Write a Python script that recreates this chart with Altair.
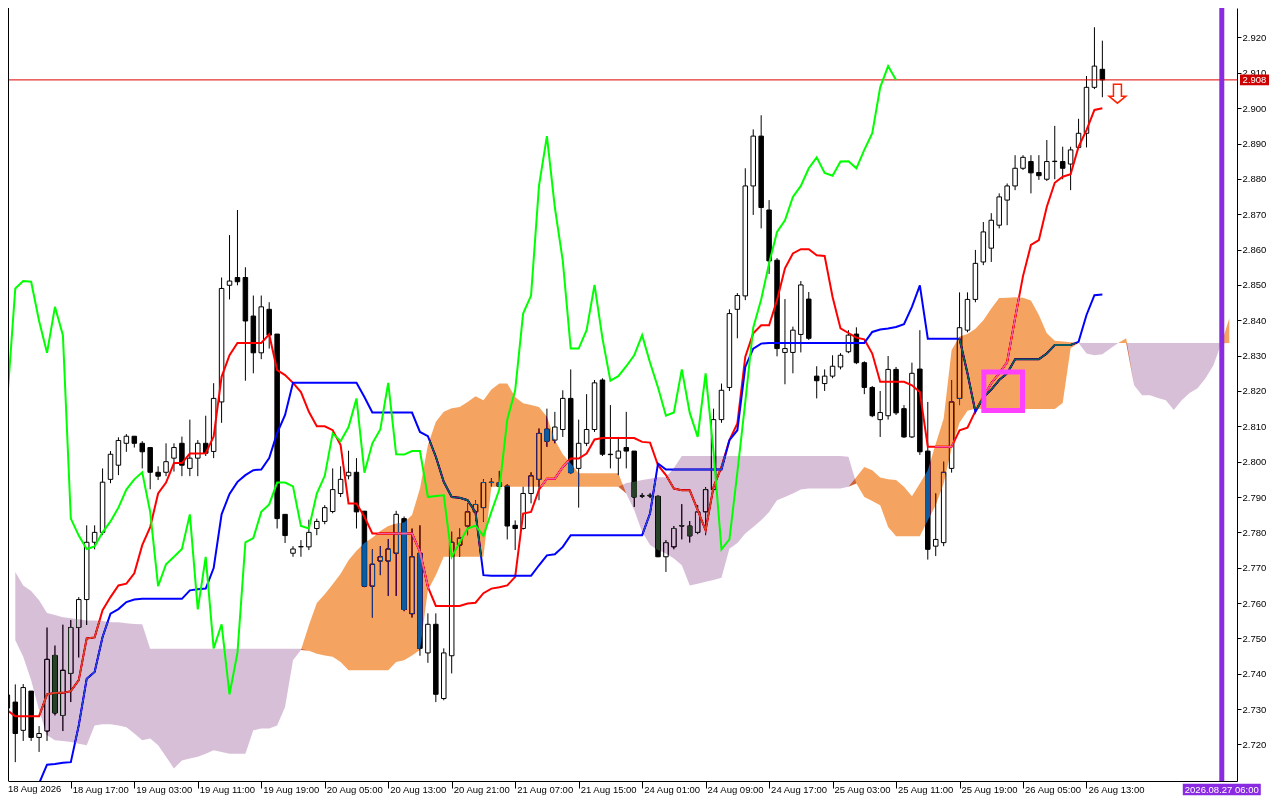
import json
import altair as alt
import pandas as pd

FONT = "Liberation Sans"

# ---------------- data ----------------
opens = [2.7303, 2.7320, 2.7240, 2.7351, 2.7220, 2.7238, 2.7452, 2.7282, 2.7401, 2.7531,
         2.7610, 2.7772, 2.7800, 2.7950, 2.7990, 2.8052, 2.8072, 2.8052, 2.8040, 2.7970,
         2.7970, 2.8010, 2.8052, 2.7981, 2.8010, 2.8052, 2.8029, 2.8169, 2.8499, 2.8521,
         2.8521, 2.8412, 2.8308, 2.8431, 2.8361, 2.7851, 2.7741, 2.7759, 2.7759, 2.7811,
         2.7831, 2.7859, 2.7910, 2.7960, 2.7970, 2.7860, 2.7648, 2.7719, 2.7719, 2.7741,
         2.7839, 2.7570, 2.7741, 2.7459, 2.7540, 2.7330, 2.7451, 2.7764, 2.7818, 2.7858,
         2.7870, 2.7942, 2.7941, 2.7931, 2.7820, 2.7811, 2.7910, 2.7950, 2.8092, 2.8061,
         2.8091, 2.8179, 2.7981, 2.8052, 2.8091, 2.8231, 2.8021, 2.8010, 2.8040, 2.8030,
         2.7903, 2.7903, 2.7902, 2.7731, 2.7759, 2.7818, 2.7818, 2.7800, 2.7858, 2.7921,
         2.8119, 2.8210, 2.8431, 2.8469, 2.8780, 2.8921, 2.8712, 2.8570, 2.8309, 2.8309,
         2.8360, 2.8460, 2.8242, 2.8221, 2.8242, 2.8268, 2.8311, 2.8361, 2.8280, 2.8210,
         2.8119, 2.8130, 2.8261, 2.8150, 2.8070, 2.8262, 2.8030, 2.7761, 2.7771, 2.7981,
         2.8179, 2.8372, 2.8459, 2.8565, 2.8604, 2.8669, 2.8740, 2.8780, 2.8830, 2.8849,
         2.8818, 2.8799, 2.8849, 2.8849, 2.8842, 2.8889, 2.8929, 2.9059, 2.9110]
highs = [2.7354, 2.7370, 2.7371, 2.7351, 2.7252, 2.7531, 2.7480, 2.7539, 2.7552, 2.7617,
         2.7820, 2.7820, 2.7981, 2.8030, 2.8069, 2.8078, 2.8072, 2.8058, 2.8040, 2.7987,
         2.8052, 2.8052, 2.8071, 2.8119, 2.8061, 2.8130, 2.8222, 2.8521, 2.8641, 2.8712,
         2.8550, 2.8470, 2.8470, 2.8451, 2.8361, 2.7851, 2.7761, 2.7778, 2.7836, 2.7839,
         2.7877, 2.7981, 2.7987, 2.8031, 2.8010, 2.7860, 2.7752, 2.7761, 2.7781, 2.7861,
         2.7845, 2.7811, 2.7820, 2.7571, 2.7571, 2.7472, 2.7802, 2.7811, 2.7883, 2.7891,
         2.7950, 2.7953, 2.7974, 2.7936, 2.7834, 2.7929, 2.7970, 2.8094, 2.8150, 2.8141,
         2.8202, 2.8261, 2.8119, 2.8191, 2.8231, 2.8236, 2.8160, 2.8070, 2.8141, 2.8030,
         2.7911, 2.7911, 2.7905, 2.7778, 2.7818, 2.7880, 2.7832, 2.7877, 2.7928, 2.8150,
         2.8221, 2.8431, 2.8477, 2.8830, 2.8940, 2.8980, 2.8740, 2.8576, 2.8460, 2.8382,
         2.8511, 2.8480, 2.8270, 2.8261, 2.8301, 2.8307, 2.8372, 2.8380, 2.8284, 2.8214,
         2.8200, 2.8299, 2.8268, 2.8160, 2.8280, 2.8372, 2.8169, 2.7910, 2.8000, 2.8231,
         2.8479, 2.8479, 2.8599, 2.8678, 2.8703, 2.8759, 2.8787, 2.8867, 2.8867, 2.8867,
         2.8867, 2.8910, 2.8950, 2.8891, 2.8891, 2.8970, 2.9091, 2.9229, 2.9191]
lows = [2.7292, 2.7150, 2.7210, 2.7210, 2.7179, 2.7210, 2.7282, 2.7238, 2.7320, 2.7446,
        2.7538, 2.7752, 2.7792, 2.7939, 2.7962, 2.8028, 2.8040, 2.7981, 2.7922, 2.7948,
        2.7959, 2.7972, 2.7959, 2.7959, 2.7959, 2.8016, 2.8010, 2.8110, 2.8459, 2.8499,
        2.8229, 2.8250, 2.8290, 2.8320, 2.7811, 2.7770, 2.7731, 2.7731, 2.7750, 2.7792,
        2.7823, 2.7854, 2.7900, 2.7950, 2.7811, 2.7645, 2.7559, 2.7679, 2.7620, 2.7620,
        2.7577, 2.7559, 2.7451, 2.7431, 2.7320, 2.7325, 2.7401, 2.7731, 2.7792, 2.7834,
        2.7830, 2.7930, 2.7928, 2.7780, 2.7750, 2.7808, 2.7882, 2.7891, 2.8042, 2.8052,
        2.8070, 2.7965, 2.7870, 2.8044, 2.8084, 2.8016, 2.7981, 2.7962, 2.7981, 2.7872,
        2.7897, 2.7897, 2.7730, 2.7688, 2.7752, 2.7780, 2.7771, 2.7795, 2.7792, 2.7917,
        2.8110, 2.8200, 2.8349, 2.8457, 2.8698, 2.8660, 2.8531, 2.8298, 2.8219, 2.8250,
        2.8309, 2.8344, 2.8179, 2.8200, 2.8236, 2.8261, 2.8307, 2.8276, 2.8191, 2.8126,
        2.8070, 2.8119, 2.8132, 2.8067, 2.8067, 2.8019, 2.7723, 2.7733, 2.7761, 2.7969,
        2.8160, 2.8366, 2.8451, 2.8556, 2.8565, 2.8660, 2.8669, 2.8768, 2.8825, 2.8759,
        2.8797, 2.8794, 2.8799, 2.8799, 2.8768, 2.8884, 2.8889, 2.9054, 2.9031]
closes = [2.7340, 2.7231, 2.7361, 2.7220, 2.7231, 2.7441, 2.7289, 2.7410, 2.7531, 2.7610,
          2.7772, 2.7800, 2.7942, 2.8021, 2.8060, 2.8072, 2.8052, 2.8028, 2.7970, 2.7959,
          2.8000, 2.8040, 2.7990, 2.8010, 2.8052, 2.8024, 2.8179, 2.8490, 2.8511, 2.8509,
          2.8398, 2.8308, 2.8438, 2.8358, 2.7839, 2.7791, 2.7753, 2.7760, 2.7800, 2.7831,
          2.7870, 2.7921, 2.7950, 2.7970, 2.7858, 2.7648, 2.7710, 2.7731, 2.7753, 2.7851,
          2.7582, 2.7731, 2.7472, 2.7540, 2.7342, 2.7459, 2.7772, 2.7784, 2.7858, 2.7879,
          2.7941, 2.7941, 2.7930, 2.7818, 2.7811, 2.7910, 2.7960, 2.8080, 2.8058, 2.8098,
          2.8179, 2.7969, 2.8052, 2.8091, 2.8223, 2.8021, 2.8020, 2.8030, 2.8030, 2.7900,
          2.7903, 2.7905, 2.7731, 2.7771, 2.7811, 2.7819, 2.7790, 2.7858, 2.7921, 2.8119,
          2.8202, 2.8419, 2.8470, 2.8780, 2.8921, 2.8719, 2.8568, 2.8320, 2.8320, 2.8372,
          2.8500, 2.8349, 2.8229, 2.8242, 2.8270, 2.8301, 2.8358, 2.8280, 2.8210, 2.8130,
          2.8139, 2.8261, 2.8138, 2.8070, 2.8250, 2.8028, 2.7752, 2.7780, 2.7970, 2.8169,
          2.8379, 2.8459, 2.8561, 2.8650, 2.8683, 2.8749, 2.8780, 2.8830, 2.8861, 2.8817,
          2.8809, 2.8849, 2.8850, 2.8830, 2.8882, 2.8929, 2.9059, 2.9119, 2.9080]

tenkan = [2.7297, 2.7280, 2.7280, 2.7280, 2.7280, 2.7342, 2.7346, 2.7346, 2.7351, 2.7382,
          2.7500, 2.7503, 2.7580, 2.7617, 2.7650, 2.7655, 2.7684, 2.7764, 2.7815, 2.7910,
          2.7941, 2.7996, 2.7996, 2.8023, 2.8023, 2.8024, 2.8071, 2.8240, 2.8301, 2.8336,
          2.8336, 2.8336, 2.8336, 2.8360, 2.8259, 2.8245, 2.8223, 2.8197, 2.8141, 2.8100,
          2.8100, 2.8089, 2.8047, 2.7882, 2.7882, 2.7844, 2.7797, 2.7797, 2.7797, 2.7797,
          2.7797, 2.7797, 2.7745, 2.7646, 2.7592, 2.7592, 2.7592, 2.7592, 2.7599, 2.7601,
          2.7628, 2.7641, 2.7645, 2.7650, 2.7674, 2.7853, 2.7858, 2.7921, 2.7952, 2.7952,
          2.7985, 2.8009, 2.8009, 2.8023, 2.8063, 2.8067, 2.8067, 2.8067, 2.8067, 2.8067,
          2.8056, 2.8054, 2.7990, 2.7962, 2.7924, 2.7919, 2.7919, 2.7863, 2.7806, 2.7929,
          2.7985, 2.8061, 2.8108, 2.8297, 2.8363, 2.8386, 2.8386, 2.8457, 2.8547, 2.8589,
          2.8601, 2.8601, 2.8584, 2.8582, 2.8466, 2.8377, 2.8364, 2.8351, 2.8346, 2.8306,
          2.8226, 2.8226, 2.8226, 2.8226, 2.8216, 2.8197, 2.8042, 2.8042, 2.8042, 2.8042,
          2.8089, 2.8096, 2.8143, 2.8183, 2.8222, 2.8250, 2.8282, 2.8406, 2.8525, 2.8613,
          2.8627, 2.8721, 2.8789, 2.8806, 2.8813, 2.8891, 2.8938, 2.8995, 2.9000]
kijun = [2.7042, 2.7042, 2.7042, 2.7042, 2.7090, 2.7143, 2.7145, 2.7148, 2.7150, 2.7254,
         2.7386, 2.7405, 2.7504, 2.7570, 2.7583, 2.7603, 2.7610, 2.7612, 2.7612, 2.7612,
         2.7612, 2.7612, 2.7612, 2.7636, 2.7639, 2.7641, 2.7699, 2.7851, 2.7909, 2.7943,
         2.7962, 2.7976, 2.7978, 2.8010, 2.8081, 2.8132, 2.8223, 2.8223, 2.8223, 2.8223,
         2.8223, 2.8223, 2.8223, 2.8223, 2.8223, 2.8183, 2.8139, 2.8139, 2.8139, 2.8139,
         2.8139, 2.8139, 2.8084, 2.8072, 2.8014, 2.7943, 2.7900, 2.7898, 2.7891, 2.7857,
         2.7679, 2.7677, 2.7677, 2.7677, 2.7677, 2.7677, 2.7677, 2.7707, 2.7735, 2.7738,
         2.7759, 2.7792, 2.7792, 2.7792, 2.7792, 2.7792, 2.7792, 2.7792, 2.7792, 2.7792,
         2.7792, 2.7854, 2.7995, 2.7978, 2.7978, 2.7978, 2.7978, 2.7978, 2.7978, 2.7978,
         2.7978, 2.8061, 2.8089, 2.8268, 2.8320, 2.8334, 2.8336, 2.8336, 2.8336, 2.8336,
         2.8336, 2.8336, 2.8336, 2.8336, 2.8336, 2.8336, 2.8336, 2.8336, 2.8336, 2.8367,
         2.8374, 2.8377, 2.8381, 2.8389, 2.8438, 2.8499, 2.8348, 2.8348, 2.8348, 2.8348,
         2.8348, 2.8250, 2.8141, 2.8182, 2.8204, 2.8231, 2.8250, 2.8290, 2.8290, 2.8290,
         2.8290, 2.8306, 2.8330, 2.8330, 2.8330, 2.8339, 2.8415, 2.8471, 2.8473]

senkou_a = [2.7509, 2.7495, 2.7448, 2.7382, 2.7297, 2.7226, 2.7212, 2.7210, 2.7207, 2.7202,
            2.7198, 2.7254, 2.7257, 2.7257, 2.7254, 2.7249, 2.7231, 2.7212, 2.7217, 2.7198,
            2.7165, 2.7132, 2.7155, 2.7160, 2.7165, 2.7174, 2.7184, 2.7179, 2.7174, 2.7174,
            2.7174, 2.7240, 2.7245, 2.7245, 2.7254, 2.7306, 2.7438, 2.7467, 2.7537, 2.7600,
            2.7625, 2.7653, 2.7683, 2.7721, 2.7748, 2.7770, 2.7785, 2.7804, 2.7818, 2.7825,
            2.7828, 2.7849, 2.7924, 2.8047, 2.8113, 2.8141, 2.8151, 2.8155, 2.8169, 2.8185,
            2.8174, 2.8204, 2.8221, 2.8221, 2.8183, 2.8165, 2.8160, 2.8155, 2.8127, 2.8061,
            2.8021, 2.7995, 2.7967, 2.7967, 2.7967, 2.7967, 2.7967, 2.7967, 2.7910, 2.7863,
            2.7801, 2.7764, 2.7750, 2.7740, 2.7726, 2.7707, 2.7650, 2.7655, 2.7660, 2.7665,
            2.7672, 2.7754, 2.7770, 2.7797, 2.7815, 2.7834, 2.7858, 2.7891, 2.7900, 2.7910,
            2.7921, 2.7924, 2.7924, 2.7924, 2.7924, 2.7924, 2.7929, 2.7957, 2.7985, 2.7976,
            2.7955, 2.7950, 2.7948, 2.7929, 2.7902, 2.7938, 2.7976, 2.8051, 2.8122, 2.8316,
            2.8354, 2.8361, 2.8376, 2.8400, 2.8433, 2.8463, 2.8464, 2.8465, 2.8464, 2.8456,
            2.8415, 2.8363, 2.8342, 2.8340, 2.8338, 2.8336, 2.8306, 2.8301, 2.8304, 2.8320,
            2.8336, 2.8349, 2.8216, 2.8188, 2.8188, 2.8180, 2.8174, 2.8146, 2.8174, 2.8194,
            2.8208, 2.8236, 2.8273, 2.8335, 2.8406]
senkou_b = [2.7698, 2.7688, 2.7650, 2.7634, 2.7608, 2.7572, 2.7566, 2.7560, 2.7557, 2.7554,
            2.7551, 2.7551, 2.7549, 2.7546, 2.7546, 2.7543, 2.7541, 2.7540, 2.7471, 2.7471,
            2.7471, 2.7471, 2.7471, 2.7471, 2.7471, 2.7471, 2.7471, 2.7471, 2.7471, 2.7471,
            2.7471, 2.7471, 2.7471, 2.7471, 2.7471, 2.7471, 2.7471, 2.7471, 2.7465, 2.7457,
            2.7452, 2.7448, 2.7433, 2.7410, 2.7410, 2.7410, 2.7410, 2.7410, 2.7410, 2.7433,
            2.7438, 2.7452, 2.7467, 2.7636, 2.7679, 2.7731, 2.7731, 2.7731, 2.7731, 2.7731,
            2.7731, 2.7929, 2.7929, 2.7929, 2.7929, 2.7929, 2.7929, 2.7929, 2.7929, 2.7929,
            2.7929, 2.7929, 2.7929, 2.7929, 2.7929, 2.7929, 2.7929, 2.7929, 2.7940, 2.7943,
            2.7948, 2.7952, 2.7956, 2.7956, 2.7982, 2.8016, 2.8016, 2.8016, 2.8016, 2.8016,
            2.8016, 2.8016, 2.8016, 2.8016, 2.8016, 2.8016, 2.8016, 2.8016, 2.8016, 2.8016,
            2.8016, 2.8016, 2.8016, 2.8016, 2.8016, 2.8016, 2.8014, 2.7938, 2.7900, 2.7889,
            2.7877, 2.7815, 2.7789, 2.7789, 2.7789, 2.7789, 2.7834, 2.7877, 2.7938, 2.8037,
            2.8110, 2.8144, 2.8150, 2.8149, 2.8149, 2.8149, 2.8149, 2.8149, 2.8149, 2.8149,
            2.8149, 2.8149, 2.8149, 2.8166, 2.8321, 2.8336, 2.8336, 2.8336, 2.8336, 2.8336,
            2.8336, 2.8336, 2.8336, 2.8336, 2.8336, 2.8336, 2.8336, 2.8336, 2.8336, 2.8336,
            2.8336, 2.8336, 2.8336, 2.8336, 2.8336]

time_labels = ["18 Aug 2026", "18 Aug 17:00", "19 Aug 03:00", "19 Aug 11:00", "19 Aug 19:00",
               "20 Aug 05:00", "20 Aug 13:00", "20 Aug 21:00", "21 Aug 07:00", "21 Aug 15:00",
               "24 Aug 01:00", "24 Aug 09:00", "24 Aug 17:00", "25 Aug 03:00", "25 Aug 11:00",
               "25 Aug 19:00", "26 Aug 05:00", "26 Aug 13:00"]
time_label_bars = [8, 16, 24, 32, 40, 48, 56, 64, 72, 80, 88, 96, 104, 112, 120, 128, 136]
price_ticks = [2.720, 2.730, 2.740, 2.750, 2.760, 2.770, 2.780, 2.790, 2.800, 2.810, 2.820,
               2.830, 2.840, 2.850, 2.860, 2.870, 2.880, 2.890, 2.900, 2.910, 2.920]

current_price = [2.908]
current_price_text = ["2.908"]
marker_bar = [153.05]
marker_text = ["2026.08.27 06:00"]
box_bars = [123.06, 127.94]
box_prices = [2.8145, 2.8254]
arrow_bar = [139.9]
arrow_price = [2.9041]
CHIKOU_SHIFT = 26

# ---------------- layout ----------------
W, H = 1229, 773
X_MIN, X_MAX = 0.7125, 154.3375
Y_MIN, Y_MAX = 2.70967, 2.92834

xs = alt.Scale(domain=[X_MIN, X_MAX], nice=False, zero=False)
ys = alt.Scale(domain=[Y_MIN, Y_MAX], nice=False, zero=False)

n = len(closes)
bars = pd.DataFrame({"i": list(range(n)), "open": opens, "high": highs,
                     "low": lows, "close": closes})
bars["dir"] = ["up" if c >= o else "down" for o, c in zip(opens, closes)]
lines = pd.DataFrame({"i": list(range(n)), "tenkan": tenkan, "kijun": kijun})
chik = pd.DataFrame({"i": list(range(n - CHIKOU_SHIFT)), "chikou": closes[CHIKOU_SHIFT:]})
cloud = pd.DataFrame({"i": list(range(len(senkou_a))), "a": senkou_a, "b": senkou_b})
cloud = cloud[(cloud["i"] >= 1) & (cloud["i"] <= 154)].copy()
cloud["lo"] = cloud[["a", "b"]].min(axis=1)

label_expr = json.dumps(time_labels) + "[round(datum.value/8)]"
X_AXIS = alt.Axis(values=time_label_bars, labelExpr=label_expr, tickSize=7, tickColor="black",
                  domainColor="black", labelAlign="left", labelBaseline="top", labelPadding=-4,
                  labelOffset=1.5, labelFont=FONT, labelFontSize=9.5, labelColor="black",
                  grid=False, labelOverlap=False, labelFlush=False, title=None)
Y_AXIS = alt.Axis(orient="right", values=price_ticks, format=".3f", tickSize=4, tickColor="black",
                  domainColor="black", labelPadding=1, labelFont=FONT, labelFontSize=9.5,
                  labelColor="black", grid=False, labelOverlap=False, labelFlush=False, title=None)


def xq(f):
    return alt.X(f"{f}:Q", scale=xs, axis=X_AXIS, title=None)


def yq(f):
    return alt.Y(f"{f}:Q", scale=ys, axis=Y_AXIS, title=None)


wicks = alt.Chart(bars).mark_rule(color="black", strokeWidth=1, clip=True).encode(
    x=xq("i"), y=yq("low"), y2="high:Q")
bodies = alt.Chart(bars).mark_bar(size=4.5, stroke="black", strokeWidth=1, clip=True,
                                  orient="vertical", opacity=1).encode(
    x=xq("i"), y=yq("open"), y2="close:Q",
    fill=alt.Fill("dir:N", scale=alt.Scale(domain=["up", "down"], range=["white", "black"]),
                  legend=None))
price_line = alt.Chart(pd.DataFrame({"p": current_price})).mark_rule(
    color="#dd0000", strokeWidth=1, clip=True).encode(y=yq("p"))
tenkan_l = alt.Chart(lines).mark_line(color="#ff0000", strokeWidth=2, clip=True).encode(
    x=xq("i"), y=yq("tenkan"))
kijun_l = alt.Chart(lines).mark_line(color="#0000ff", strokeWidth=2, clip=True).encode(
    x=xq("i"), y=yq("kijun"))
cloud_up = alt.Chart(cloud).mark_area(color="#0b5b9f", blend="difference", opacity=1).encode(
    x=xq("i"), y=yq("a"), y2="lo:Q")
cloud_dn = alt.Chart(cloud).mark_area(color="#274027", blend="difference", opacity=1).encode(
    x=xq("i"), y=yq("b"), y2="lo:Q")
chikou_l = alt.Chart(chik).mark_line(color="#00ff00", strokeWidth=2, clip=True).encode(
    x=xq("i"), y=yq("chikou"))

box_df = pd.DataFrame({"x1": [box_bars[0]], "x2": [box_bars[1]],
                       "y1": [box_prices[0]], "y2": [box_prices[1]]})
box = alt.Chart(box_df).mark_rect(fillOpacity=0, stroke="#ff40ff", strokeWidth=5).encode(
    x=xq("x1"), x2="x2:Q", y=yq("y1"), y2="y2:Q")

ARROW = "M-0.42,-1L0.42,-1L0.42,0.26L0.89,0.26L0,1L-0.89,0.26L-0.42,0.26Z"
arrow = alt.Chart(pd.DataFrame({"x": arrow_bar, "y": arrow_price})).mark_point(
    shape=ARROW, size=361, filled=True, fill="white", stroke="#ff2200", strokeWidth=1.5,
    opacity=1).encode(x=xq("x"), y=yq("y"))

vline = alt.Chart(pd.DataFrame({"x": marker_bar})).mark_rule(
    color="#8a2be2", strokeWidth=5, clip=True).encode(x=xq("x"))

left_border = alt.Chart(pd.DataFrame({"k": [0]})).mark_rule(
    color="black", strokeWidth=1, clip=True).encode(
    x=alt.value(0.5), y=alt.value(0), y2=alt.value(H))

RECT_PRICE = "M-1,-0.37L1,-0.37L1,0.37L-1,0.37Z"
RECT_DATE = "M-1,-0.145L1,-0.145L1,0.145L-1,0.145Z"
plab_df = pd.DataFrame({"p": current_price, "t": current_price_text})
price_box = alt.Chart(plab_df).mark_point(shape=RECT_PRICE, size=29 ** 2, filled=True,
                                          color="#cc0000", opacity=1).encode(
    x=alt.value(W + 17.5), y=yq("p"))
price_txt = alt.Chart(plab_df).mark_text(color="white", font=FONT, fontSize=9.5,
                                         align="center", baseline="middle").encode(
    x=alt.value(W + 17.5), y=yq("p"), text="t:N")

dlab_df = pd.DataFrame({"x": marker_bar, "t": marker_text})
date_box = alt.Chart(dlab_df).mark_point(shape=RECT_DATE, size=78 ** 2, filled=True,
                                         color="#8a2be2", opacity=1).encode(
    x=xq("x"), y=alt.value(H + 8.5))
date_txt = alt.Chart(dlab_df).mark_text(color="white", font=FONT, fontSize=9.5,
                                        align="center", baseline="middle").encode(
    x=xq("x"), y=alt.value(H + 8.8), text="t:N")

first_lab = alt.Chart(pd.DataFrame({"t": [time_labels[0]]})).mark_text(
    color="black", font=FONT, fontSize=9.5, align="left", baseline="top").encode(
    x=alt.value(0), y=alt.value(H + 3), text="t:N")

chart = alt.layer(
    wicks, bodies, price_line, tenkan_l, kijun_l, cloud_up, cloud_dn, chikou_l,
    box, arrow, vline, left_border, price_box, price_txt, date_box, date_txt, first_lab
).properties(
    width=W, height=H,
    padding={"left": 0, "top": 0, "right": 0, "bottom": 0},
    background="white",
).configure_view(stroke=None)

chart.save("out.html", embed_options={"renderer": "svg", "actions": False})
